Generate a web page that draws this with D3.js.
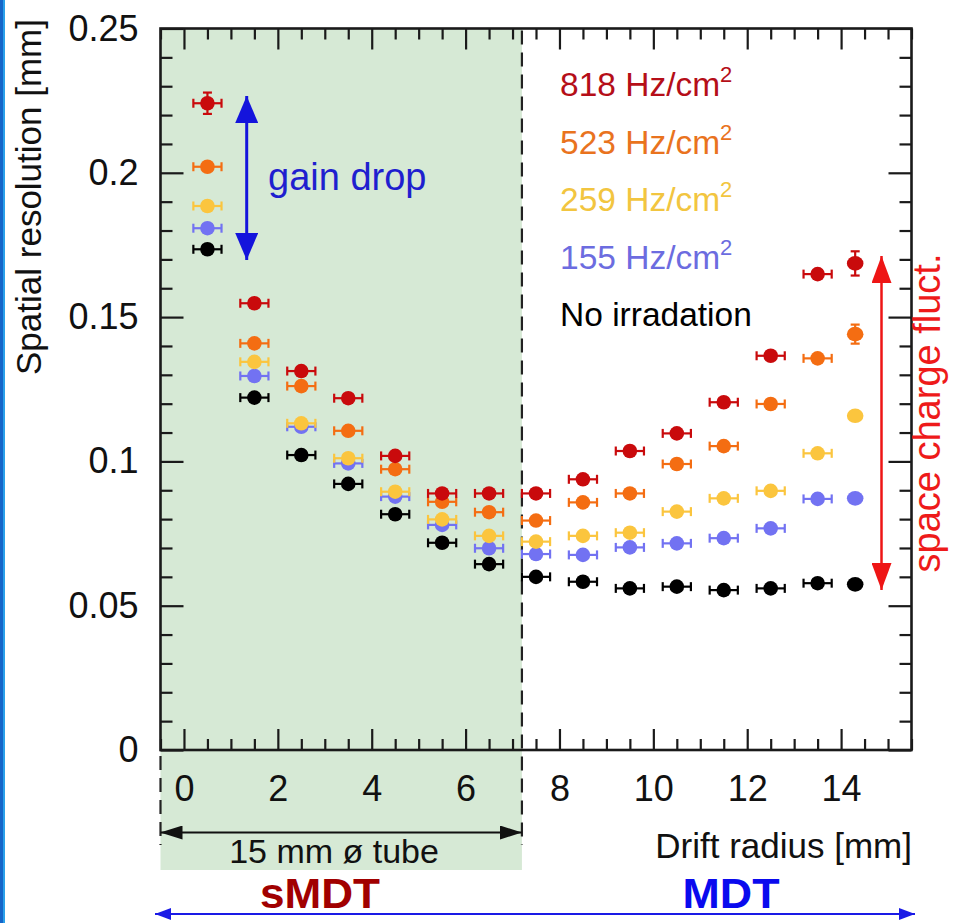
<!DOCTYPE html>
<html><head><meta charset="utf-8">
<script src="https://cdn.jsdelivr.net/npm/d3@7"></script>
<style>html,body{margin:0;padding:0;background:#fff}svg{display:block}text{font-family:"Liberation Sans",Arial,Helvetica,sans-serif}</style>
</head><body>
<svg id="chart" width="959" height="923"></svg>
<script>
// ---------- data ----------
const driftRadius = [0.5,1.5,2.5,3.5,4.5,5.5,6.5,7.5,8.5,9.5,10.5,11.5,12.5,13.5,14.3];
const radiusErr   = [0.3,0.3,0.3,0.3,0.3,0.3,0.3,0.3,0.3,0.3,0.3,0.3,0.3,0.3,0.08];
const seriesNames = ["818 Hz/cm", "523 Hz/cm", "259 Hz/cm", "155 Hz/cm", "No irradation"];
const res818  = [0.2241,0.1548,0.1313,0.1219,0.1019,0.0889,0.0889,0.0889,0.0938,0.1036,0.1097,0.1205,0.1366,0.1649,0.1686];
const res523  = [0.2021,0.1409,0.1261,0.1106,0.0973,0.0860,0.0824,0.0795,0.0858,0.0889,0.0991,0.1053,0.1199,0.1357,0.1441];
const res259  = [0.1885,0.1345,0.1132,0.1011,0.0895,0.0799,0.0742,0.0722,0.0742,0.0753,0.0826,0.0872,0.0898,0.1028,0.1158];
const res155  = [0.1808,0.1296,0.1120,0.0993,0.0878,0.0780,0.0699,0.0679,0.0676,0.0702,0.0716,0.0734,0.0768,0.0870,0.0872];
const res0    = [0.1735,0.1221,0.1022,0.0922,0.0817,0.0718,0.0644,0.0600,0.0583,0.0560,0.0566,0.0554,0.0560,0.0578,0.0574];
const err818  = [0.0037,0.001,0.001,0.001,0.001,0.001,0.001,0.001,0.001,0.001,0.001,0.001,0.001,0.0015,0.0042];
const err523  = [0.0015,0.001,0.001,0.001,0.001,0.001,0.001,0.001,0.001,0.001,0.001,0.001,0.001,0.001,0.0033];
const err259  = [0.001,0.001,0.001,0.001,0.001,0.001,0.001,0.001,0.001,0.001,0.001,0.001,0.001,0.001,0.0015];
const err155  = [0.001,0.001,0.001,0.001,0.001,0.001,0.001,0.001,0.001,0.001,0.001,0.001,0.001,0.001,0.001];
const err0    = [0.001,0.001,0.001,0.001,0.001,0.001,0.001,0.001,0.001,0.001,0.001,0.001,0.001,0.001,0.001];
const xTickLabels = [0,2,4,6,8,10,12,14];
const yTickLabels = [0,0.05,0.1,0.15,0.2,0.25];
const sMDTEdge = 7.2;

// ---------- styles ----------
const markerColors = ["#c90a0c","#f46d12","#fbc53e","#7272f2","#000000"];
const legendColors = ["#b50e18","#e9731e","#f2c540","#6c6ce0","#000000"];
const seriesVals = [res818,res523,res259,res155,res0];
const seriesErrs = [err818,err523,err259,err155,err0];

const L=160.5, R=911.5, T=28.5, B=750;
const svg = d3.select("#chart");
const x = d3.scaleLinear().domain([-0.5,15.5]).range([L,R]);
const y = d3.scaleLinear().domain([0,0.25]).range([B,T]);

svg.append("rect").attr("width",959).attr("height",923).attr("fill","#fff");
// left blue border
svg.append("rect").attr("x",0).attr("y",0).attr("width",3).attr("height",923).attr("fill","#1565c8");
svg.append("rect").attr("x",3).attr("y",0).attr("width",2).attr("height",923).attr("fill","#2aa0ea");

// green sMDT region
svg.append("rect").attr("x",L).attr("y",T).attr("width",x(sMDTEdge)-L).attr("height",870-T).attr("fill","#d6e9d5");

// axes
const majorsX = d3.range(0,15.01,2);
const minorsX = d3.range(-0.5,15.51,0.5).filter(v=>Math.abs(v/2-Math.round(v/2))>1e-6);
const majorsY = yTickLabels;
const minorsY = d3.range(0,0.2501,0.01).filter(v=>Math.abs(v/0.05-Math.round(v/0.05))>1e-6);

function styleAxis(g){ g.select(".domain").remove(); g.selectAll("line").attr("stroke","#1a1a1a").attr("stroke-width",2.2); g.selectAll("text").attr("font-family","Liberation Sans, Arial, sans-serif").attr("font-size",36).attr("fill","#111"); }

svg.append("g").attr("transform",`translate(0,${B})`)
  .call(d3.axisBottom(x).tickValues(xTickLabels).tickSize(-21).tickPadding(25).tickFormat(d3.format("d"))).call(styleAxis);
svg.append("g").attr("transform",`translate(0,${B})`)
  .call(d3.axisBottom(x).tickValues(minorsX).tickSize(-11).tickFormat("")).call(styleAxis);
svg.append("g").attr("transform",`translate(0,${T})`)
  .call(d3.axisTop(x).tickValues(majorsX).tickSize(-21).tickFormat("")).call(styleAxis);
svg.append("g").attr("transform",`translate(0,${T})`)
  .call(d3.axisTop(x).tickValues(minorsX).tickSize(-11).tickFormat("")).call(styleAxis);
svg.append("g").attr("transform",`translate(${L},0)`)
  .call(d3.axisLeft(y).tickValues(majorsY).tickSize(-23).tickPadding(22).tickFormat(d=>d===0?"0":String(d))).call(styleAxis);
svg.append("g").attr("transform",`translate(${L},0)`)
  .call(d3.axisLeft(y).tickValues(minorsY).tickSize(-12).tickFormat("")).call(styleAxis);
svg.append("g").attr("transform",`translate(${R},0)`)
  .call(d3.axisRight(y).tickValues(majorsY).tickSize(-23).tickFormat("")).call(styleAxis);
svg.append("g").attr("transform",`translate(${R},0)`)
  .call(d3.axisRight(y).tickValues(minorsY).tickSize(-12).tickFormat("")).call(styleAxis);

// frame
svg.append("rect").attr("x",L).attr("y",T).attr("width",R-L).attr("height",B-T)
  .attr("fill","none").attr("stroke","#1a1a1a").attr("stroke-width",2.6);

// dashed lines
svg.append("line").attr("x1",x(sMDTEdge)).attr("x2",x(sMDTEdge)).attr("y1",T+2).attr("y2",845)
  .attr("stroke","#222").attr("stroke-width",2.2).attr("stroke-dasharray","14,8");
svg.append("line").attr("x1",L).attr("x2",L).attr("y1",B+6).attr("y2",845)
  .attr("stroke","#222").attr("stroke-width",2.2).attr("stroke-dasharray","14,8");

// arrowheads
const defs = svg.append("defs");
function arrowMarker(id,color,w,h){
  defs.append("marker").attr("id",id).attr("viewBox",`0 0 ${w} ${h}`).attr("refX",w).attr("refY",h/2)
    .attr("markerWidth",w).attr("markerHeight",h).attr("markerUnits","userSpaceOnUse").attr("orient","auto-start-reverse")
    .append("path").attr("d",`M0,0L${w},${h/2}L0,${h}Z`).attr("fill",color);
}
arrowMarker("ahBlack","#111",22,14);
arrowMarker("ahBlue","#1414dc",27,23);
arrowMarker("ahRed","#ee1515",27,20);
arrowMarker("ahBlue2","#1a1ae6",16,12);

// data points (black first, red last on top)
const r = 7.3, cap = 4.5;
for (let s = seriesVals.length-1; s >= 0; s--) {
  const g = svg.append("g");
  const col = markerColors[s];
  seriesVals[s].forEach((v,i)=>{
    const cx = x(driftRadius[i]), cy = y(v);
    const x0 = x(driftRadius[i]-radiusErr[i]), x1 = x(driftRadius[i]+radiusErr[i]);
    if (x1-cx > r) {
      g.append("line").attr("x1",x0).attr("x2",x1).attr("y1",cy).attr("y2",cy).attr("stroke",col).attr("stroke-width",2.2);
      g.append("line").attr("x1",x0).attr("x2",x0).attr("y1",cy-cap).attr("y2",cy+cap).attr("stroke",col).attr("stroke-width",2.2);
      g.append("line").attr("x1",x1).attr("x2",x1).attr("y1",cy-cap).attr("y2",cy+cap).attr("stroke",col).attr("stroke-width",2.2);
    }
    const ey0 = y(v+seriesErrs[s][i]), ey1 = y(v-seriesErrs[s][i]);
    if (cy-ey0 > r) {
      g.append("line").attr("x1",cx).attr("x2",cx).attr("y1",ey0).attr("y2",ey1).attr("stroke",col).attr("stroke-width",2.2);
      g.append("line").attr("x1",cx-cap).attr("x2",cx+cap).attr("y1",ey0).attr("y2",ey0).attr("stroke",col).attr("stroke-width",2.2);
      g.append("line").attr("x1",cx-cap).attr("x2",cx+cap).attr("y1",ey1).attr("y2",ey1).attr("stroke",col).attr("stroke-width",2.2);
    }
    g.append("ellipse").attr("cx",cx).attr("cy",cy).attr("rx",x1-cx>r?r:r+1).attr("ry",r).attr("fill",col);
  });
}

// legend
seriesNames.forEach((name,i)=>{
  const t = svg.append("text").attr("x",560).attr("y",96+i*57.5).attr("font-size",33.5).attr("fill",legendColors[i]).text(name);
  if (i<4) t.append("tspan").attr("dx",0).attr("dy",-14).attr("font-size",22).text("2");
});

// gain drop arrow
svg.append("line").attr("x1",246.7).attr("x2",246.7).attr("y1",96).attr("y2",260)
  .attr("stroke","#1414dc").attr("stroke-width",3).attr("marker-start","url(#ahBlue)").attr("marker-end","url(#ahBlue)");
svg.append("text").attr("x",268).attr("y",190).attr("font-size",38).attr("fill","#1f1fcf").text("gain drop");

// space charge arrow
svg.append("line").attr("x1",881.5).attr("x2",881.5).attr("y1",256).attr("y2",590)
  .attr("stroke","#ee1515").attr("stroke-width",2.5).attr("marker-start","url(#ahRed)").attr("marker-end","url(#ahRed)");
svg.append("text").attr("transform","translate(940,413) rotate(-90)").attr("text-anchor","middle")
  .attr("font-size",38).attr("fill","#ee1a1a").text("space charge fluct.");

// axis titles
svg.append("text").attr("transform","translate(41,197) rotate(-90)").attr("text-anchor","middle")
  .attr("font-size",35).attr("fill","#111").text("Spatial resolution [mm]");
svg.append("text").attr("x",912).attr("y",858).attr("text-anchor","end").attr("font-size",35).attr("fill","#111").text("Drift radius [mm]");

// tube arrow
svg.append("line").attr("x1",L).attr("x2",x(sMDTEdge)).attr("y1",832.5).attr("y2",832.5)
  .attr("stroke","#111").attr("stroke-width",2).attr("marker-start","url(#ahBlack)").attr("marker-end","url(#ahBlack)");
svg.append("text").attr("x",334).attr("y",863).attr("text-anchor","middle").attr("font-size",34).attr("fill","#111").text("15 mm ø tube");

// sMDT / MDT
svg.append("text").attr("x",320).attr("y",908).attr("text-anchor","middle").attr("font-size",43).attr("font-weight","bold")
  .attr("fill","#a10000").attr("textLength",120).attr("lengthAdjust","spacingAndGlyphs").text("sMDT");
svg.append("text").attr("x",731).attr("y",908).attr("text-anchor","middle").attr("font-size",43).attr("font-weight","bold")
  .attr("fill","#0a0aee").attr("textLength",97).attr("lengthAdjust","spacingAndGlyphs").text("MDT");
svg.append("line").attr("x1",155).attr("x2",915).attr("y1",914).attr("y2",914)
  .attr("stroke","#1a1ae6").attr("stroke-width",2.2).attr("marker-start","url(#ahBlue2)").attr("marker-end","url(#ahBlue2)");
</script>
</body></html>
